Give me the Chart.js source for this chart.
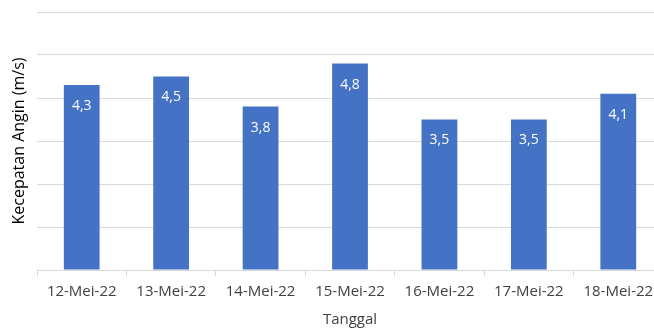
<!DOCTYPE html>
<html>
<head>
<meta charset="utf-8">
<script src="https://cdn.jsdelivr.net/npm/chart.js@4"></script>
<style>
  html, body { margin: 0; padding: 0; background: #fff; overflow: hidden; }
  #wrap { width: 654px; height: 330px; overflow: hidden; }
</style>
</head>
<body>
<div id="wrap"><canvas id="windChart" width="670" height="330"></canvas></div>
<script>
// Wind speed per day (m/s)
const dates = ['12-Mei-22', '13-Mei-22', '14-Mei-22', '15-Mei-22', '16-Mei-22', '17-Mei-22', '18-Mei-22'];
const windSpeed = [4.3, 4.5, 3.8, 4.8, 3.5, 3.5, 4.1];
const yTicks = [0, 1, 2, 3, 4, 5, 6];

// Draw value labels inside the bar tops, Excel style with decimal comma
const valueLabels = {
    id: 'valueLabels',
    afterDatasetsDraw(chart) {
        const ctx = chart.ctx;
        const meta = chart.getDatasetMeta(0);
        ctx.save();
        ctx.fillStyle = '#ffffff';
        ctx.font = '14px "Open Sans"';
        ctx.textAlign = 'center';
        ctx.textBaseline = 'middle';
        meta.data.forEach((bar, i) => {
            ctx.fillText(windSpeed[i].toFixed(1).replace('.', ','), bar.x, bar.y + 21);
        });
        ctx.restore();
    }
};

new Chart(document.getElementById('windChart'), {
    type: 'bar',
    data: {
        labels: dates,
        datasets: [{
            data: windSpeed,
            backgroundColor: '#4472C4',
            barPercentage: 0.4,
            categoryPercentage: 1
        }]
    },
    options: {
        responsive: false,
        animation: false,
        layout: { padding: { top: 12, right: 7, left: 0, bottom: 0 } },
        plugins: {
            legend: { display: false },
            tooltip: { enabled: false }
        },
        scales: {
            x: {
                afterFit(scale) { scale.height = 60; },
                grid: {
                    offset: true,
                    drawOnChartArea: false,
                    color: '#d9d9d9',
                    tickLength: 6
                },
                border: { color: '#d9d9d9' },
                ticks: {
                    color: '#404040',
                    font: { family: 'Open Sans', size: 15 },
                    padding: 7,
                    maxRotation: 0
                },
                title: {
                    display: true,
                    text: 'Tanggal',
                    color: '#404040',
                    font: { family: 'Open Sans', size: 15 },
                    padding: { top: 4, bottom: 1 }
                }
            },
            y: {
                min: 0,
                max: 6,
                afterFit(scale) { scale.width = 37; },
                afterBuildTicks(scale) { scale.ticks = yTicks.map(v => ({ value: v })); },
                grid: { color: '#d9d9d9', drawTicks: false },
                border: { display: false },
                ticks: { display: false },
                title: {
                    display: true,
                    text: 'Kecepatan Angin (m/s)',
                    color: '#000000',
                    font: { family: 'Open Sans', size: 16 },
                    padding: { top: 10, bottom: 0 }
                }
            }
        }
    },
    plugins: [valueLabels]
});
</script>
</body>
</html>
